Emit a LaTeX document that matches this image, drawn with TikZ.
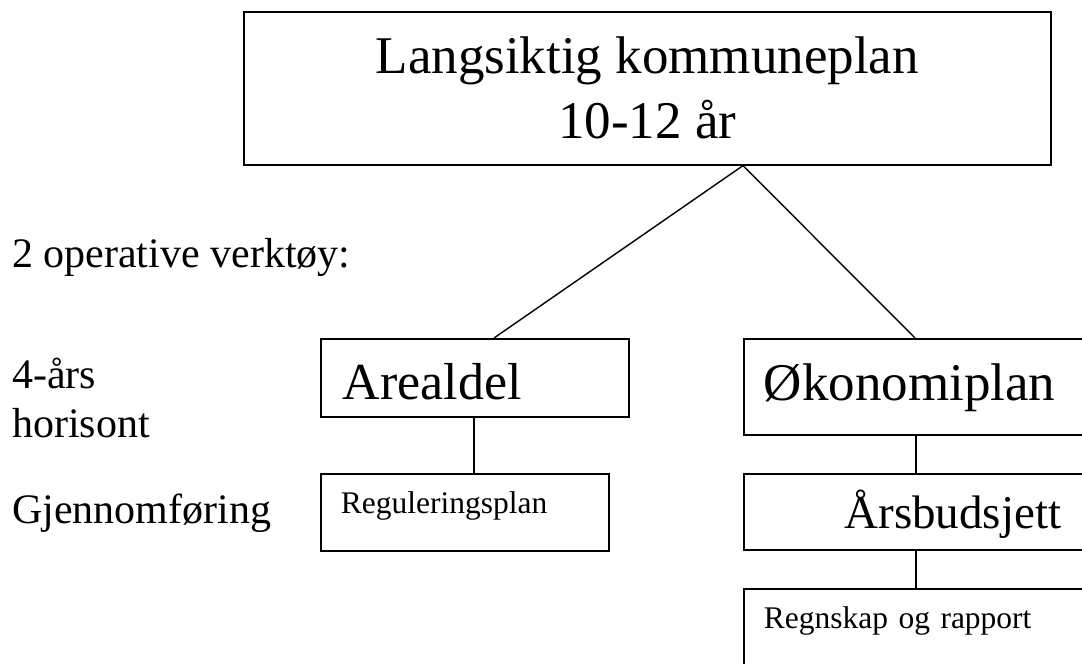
\documentclass[tikz,border=0pt]{standalone}
\usepackage{fontspec}
\setmainfont{Liberation Serif}
\usetikzlibrary{calc}

\tikzset{
  planbox/.style={draw, line width=1.6pt, anchor=north west, inner ysep=0pt, align=left},
  sidetext/.style={anchor=base west, inner sep=0pt, font=\fontsize{42}{49}\selectfont},
  link/.style={line width=1.4pt}
}

\begin{document}
\begin{tikzpicture}[x=1pt, y=-1pt]
\useasboundingbox (0,0) rectangle (1082,664);
\clip (0,0) rectangle (1082,664);

\node (plan) [draw, line width=1.6pt, anchor=north west, minimum width=807pt, minimum height=153pt, align=center, font=\fontsize{53}{65}\selectfont] at (243,11) {Langsiktig kommuneplan\\10-12 år};

\node (areal) [planbox, inner xsep=22pt, text width=264pt, text height=61pt, text depth=17pt, font=\fontsize{52}{60}\selectfont] at (320,338) {Arealdel};
\node (regul) [planbox, inner xsep=20pt, text width=248pt, text height=40pt, text depth=37pt, font=\fontsize{31.5}{38}\selectfont] at (320,473) {Reguleringsplan};

\node (okon) [planbox, inner xsep=20pt, text width=378pt, text height=62pt, text depth=34pt, font=\fontsize{53}{62}\selectfont] at (743,338) {Økonomiplan};
\node (budsj) [planbox, align=center, inner xsep=20pt, text width=378pt, text height=55pt, text depth=21pt, font=\fontsize{47}{54}\selectfont] at (743,473) {Årsbudsjett};
\node (regn) [planbox, inner xsep=20pt, text width=378pt, text height=40pt, text depth=60pt, font=\fontsize{31.5}{38}\selectfont] at (743,588) {Regnskap og rapport};

\node (verktoy) [sidetext] at (12,267) {2 operative verktøy:};
\node (aar) [sidetext] at (12,388) {4-års};
\node (horisont) [sidetext] at (12,437) {horisont};
\node (gjennom) [sidetext] at (12,523) {Gjennomføring};

\draw [link] ($(plan.south west)+(500,0)$) -- ($(areal.north west)+(174,0)$);
\draw [link] ($(plan.south west)+(500,0)$) -- ($(okon.north west)+(172,0)$);
\draw [link] ($(areal.south west)+(154,0)$) -- ($(regul.north west)+(154,0)$);
\draw [link] ($(okon.south west)+(173,0)$) -- ($(budsj.north west)+(173,0)$);
\draw [link] ($(budsj.south west)+(173,0)$) -- ($(regn.north west)+(173,0)$);
\end{tikzpicture}
\end{document}
